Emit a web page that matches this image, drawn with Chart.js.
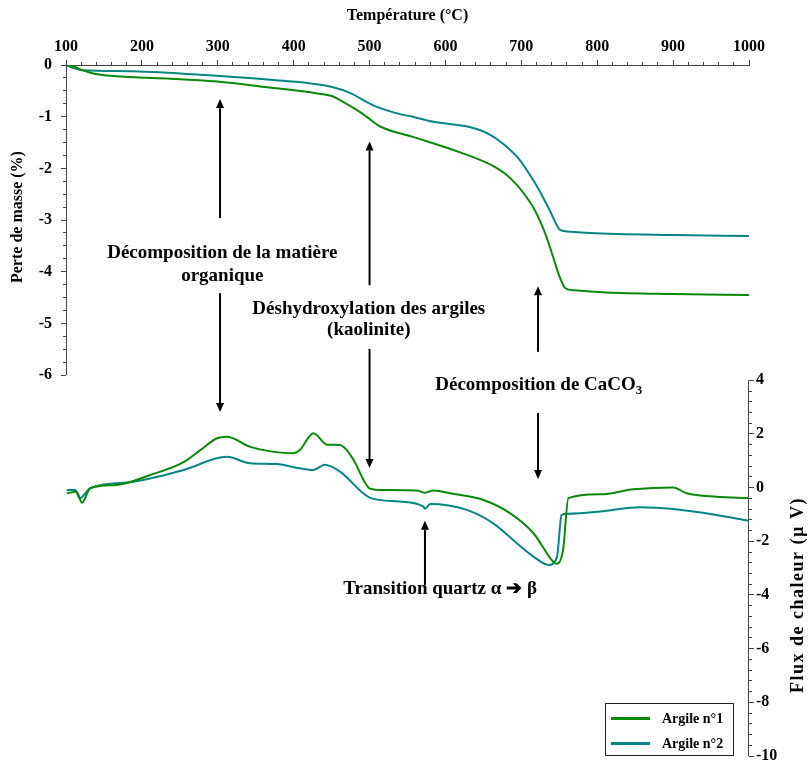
<!DOCTYPE html>
<html>
<head>
<meta charset="utf-8">
<script src="https://cdn.jsdelivr.net/npm/chart.js@4/dist/chart.umd.min.js"></script>
<style>html,body{margin:0;padding:0;background:#fff;}canvas{display:block;}</style>
</head>
<body>
<canvas id="c" width="808" height="765"></canvas>
<script>
// ---------- data ----------
const temperatureTicks = [100, 200, 300, 400, 500, 600, 700, 800, 900, 1000];
const massTicks = [0, -1, -2, -3, -4, -5, -6];
const heatTicks = [4, 2, 0, -2, -4, -6, -8, -10];
const seriesNames = ['Argile n°1', 'Argile n°2'];

// Perte de masse (%) - Argile n°1
const tgTemp1 = [100,112,118,132,158,233,299,365,431,452,461,483,496,514,557,623,665,680,694,705,716,725,733,742,750,758,770,812,900,1000];
const tgMass1 = [0,-0.04,-0.08,-0.15,-0.21,-0.26,-0.32,-0.43,-0.55,-0.61,-0.68,-0.87,-1.00,-1.19,-1.39,-1.71,-1.97,-2.12,-2.32,-2.52,-2.76,-3.03,-3.32,-3.72,-4.08,-4.32,-4.36,-4.40,-4.43,-4.45];
// Perte de masse (%) - Argile n°2
const tgTemp2 = [100,110,122,188,299,365,452,474,505,540,557,584,632,659,678,698,711,725,738,751,760,790,900,1000];
const tgMass2 = [0,-0.06,-0.10,-0.12,-0.21,-0.28,-0.43,-0.54,-0.78,-0.95,-1.00,-1.10,-1.20,-1.35,-1.55,-1.84,-2.12,-2.46,-2.83,-3.19,-3.22,-3.25,-3.29,-3.31];

// Flux de chaleur (µV) - Argile n°1
const dtaTemp1 = [101,114,121,132,167,211,255,277,299,312,342,364,400,408,426,444,461,470,479,501,518,562,573,584,606,650,685,716,742,747,755,762,804,848,900,918,957,999];
const dtaHeat1 = [-0.21,-0.15,-0.56,-0.02,0.10,0.47,0.95,1.40,1.84,1.90,1.53,1.38,1.28,1.40,2.03,1.60,1.59,1.40,1.03,-0.04,-0.09,-0.11,-0.19,-0.11,-0.21,-0.46,-0.95,-1.70,-2.76,-2.84,-2.32,-0.39,-0.25,-0.06,0.01,-0.21,-0.34,-0.39];
// Flux de chaleur (µV) - Argile n°2
const dtaTemp2 = [101,112,118,132,189,255,312,342,378,408,426,441,461,501,540,571,573,580,628,663,694,716,736,747,753,758,804,857,900,957,999];
const dtaHeat2 = [-0.09,-0.09,-0.39,-0.02,0.22,0.66,1.15,0.91,0.88,0.72,0.66,0.85,0.60,-0.38,-0.52,-0.71,-0.79,-0.61,-0.83,-1.33,-2.07,-2.57,-2.88,-2.57,-1.02,-0.98,-0.89,-0.73,-0.80,-1.02,-1.23];

// ---------- style / layout ----------
const GREEN = '#088a08';
const TEAL = '#078484';
const AXIS = '#444';
const FONT = "'Liberation Serif', 'Times New Roman', serif";
const MASS_MIN = -13.37;   // so that 0..-6 fills the upper part of the frame
const HEAT_MAX = 15.75;    // so that 4..-10 fills the lower part of the frame

const pts = (xs, ys) => xs.map((x, i) => ({x: x, y: ys[i]}));
const subdivide = (majors, n) => {
  const out = [];
  for (let i = 0; i < majors.length - 1; i++) {
    for (let k = 0; k < n; k++) out.push(majors[i] + (majors[i + 1] - majors[i]) * k / n);
  }
  out.push(majors[majors.length - 1]);
  return out;
};
const tickFont = {family: FONT, size: 16, weight: 'bold'};
const fitBox = (w, h) => sc => {
  if (w !== null) sc.width = w;
  if (h !== null) sc.height = h;
  sc.paddingTop = 0; sc.paddingBottom = 0; sc.paddingLeft = 0; sc.paddingRight = 0;
};

// annotation layout (data space)
const arrows = [
  {t: 303, axis: 'yM', from: -2.96, to: -0.66},
  {t: 303, axis: 'yH', from: 7.25, to: 2.82},
  {t: 500, axis: 'yM', from: -4.26, to: -1.48},
  {t: 500, axis: 'yH', from: 5.17, to: 0.73},
  {t: 722, axis: 'yM', from: -5.55, to: -4.28},
  {t: 722, axis: 'yH', from: 2.78, to: 0.32},
  {t: 573, axis: 'yH', from: -3.63, to: -1.23}
];
const labels = [
  {text: 'Décomposition de la matière', t: 306, axis: 'yM', v: -3.74},
  {text: 'organique', t: 306, axis: 'yM', v: -4.17},
  {text: 'Déshydroxylation des argiles', t: 499, axis: 'yM', v: -4.81},
  {text: '(kaolinite)', t: 499, axis: 'yM', v: -5.23},
  {text: 'Transition quartz α ➔ β', t: 593, axis: 'yH', v: -3.96}
];
const caco3 = {text: 'Décomposition de CaCO', sub: '3', t: 723, axis: 'yH', v: 3.64};

const decor = {
  id: 'decor',
  afterDraw(chart) {
    const ctx = chart.ctx, s = chart.scales, ca = chart.chartArea;
    ctx.save();
    // partial axis lines
    ctx.strokeStyle = AXIS; ctx.lineWidth = 1;
    ctx.beginPath();
    const xl = Math.round(ca.left) + 0.5, xr = Math.round(ca.right) - 0.5;
    ctx.moveTo(xl, s.yM.getPixelForValue(0)); ctx.lineTo(xl, s.yM.getPixelForValue(-6));
    ctx.moveTo(xr, s.yH.getPixelForValue(4)); ctx.lineTo(xr, s.yH.getPixelForValue(-10));
    ctx.stroke();

    // axis titles
    ctx.fillStyle = '#000';
    ctx.font = "bold 16px " + FONT;
    ctx.textAlign = 'center'; ctx.textBaseline = 'middle';
    ctx.save();
    ctx.translate(18, (s.yM.getPixelForValue(0) + s.yM.getPixelForValue(-6)) / 2 - 3);
    ctx.rotate(-Math.PI / 2);
    ctx.fillText('Perte de masse (%)', 0, 0);
    ctx.restore();
    ctx.save();
    ctx.font = "bold 18px " + FONT;
    if ('letterSpacing' in ctx) ctx.letterSpacing = '1.5px';
    ctx.translate(798, s.yH.getPixelForValue(-4.0));
    ctx.rotate(-Math.PI / 2);
    ctx.fillText('Flux de chaleur (µ V)', 0, 0);
    ctx.restore();

    // arrows
    ctx.strokeStyle = '#000'; ctx.fillStyle = '#000'; ctx.lineWidth = 2;
    arrows.forEach(a => {
      const x = s.x.getPixelForValue(a.t);
      const y0 = s[a.axis].getPixelForValue(a.from);
      const y1 = s[a.axis].getPixelForValue(a.to);
      const dir = y1 < y0 ? -1 : 1;
      const hl = 9, hw = 4;
      ctx.beginPath();
      ctx.moveTo(x, y0); ctx.lineTo(x, y1 - dir * hl);
      ctx.stroke();
      ctx.beginPath();
      ctx.moveTo(x, y1); ctx.lineTo(x - hw, y1 - dir * hl); ctx.lineTo(x + hw, y1 - dir * hl);
      ctx.closePath(); ctx.fill();
    });

    // annotation texts
    ctx.font = "bold 19px " + FONT;
    ctx.textAlign = 'center'; ctx.textBaseline = 'alphabetic';
    labels.forEach(l => {
      ctx.fillText(l.text, s.x.getPixelForValue(l.t), s[l.axis].getPixelForValue(l.v));
    });
    // CaCO3 with subscript
    const wMain = ctx.measureText(caco3.text).width;
    ctx.font = "bold 13px " + FONT;
    const wSub = ctx.measureText(caco3.sub).width;
    const cx = s.x.getPixelForValue(caco3.t), by = s[caco3.axis].getPixelForValue(caco3.v);
    const x0 = cx - (wMain + wSub) / 2;
    ctx.textAlign = 'left';
    ctx.font = "bold 19px " + FONT;
    ctx.fillText(caco3.text, x0, by);
    ctx.font = "bold 13px " + FONT;
    ctx.fillText(caco3.sub, x0 + wMain, by + 4);

    // legend
    const lx = 605.5, ly = 703.5, lw = 128, lh = 52;
    ctx.strokeStyle = '#222'; ctx.lineWidth = 1;
    ctx.strokeRect(lx, ly, lw, lh);
    const cols = [GREEN, TEAL];
    ctx.font = "bold 14px " + FONT;
    ctx.textBaseline = 'middle';
    seriesNames.forEach((n, i) => {
      const yy = 718.5 + i * 25;
      ctx.strokeStyle = cols[i]; ctx.lineWidth = 3;
      ctx.beginPath(); ctx.moveTo(611, yy); ctx.lineTo(650, yy); ctx.stroke();
      ctx.fillStyle = '#000';
      ctx.fillText(n, 662, yy + 1);
    });
    ctx.restore();
  }
};

const lineDs = (label, data, color, axis) => ({
  label: label, data: data, borderColor: color, backgroundColor: color,
  borderWidth: 2, pointRadius: 0, fill: false, yAxisID: axis, xAxisID: 'x',
  cubicInterpolationMode: 'monotone'
});

new Chart(document.getElementById('c'), {
  type: 'line',
  data: {
    datasets: [
      lineDs(seriesNames[0], pts(tgTemp1, tgMass1), GREEN, 'yM'),
      lineDs(seriesNames[1], pts(tgTemp2, tgMass2), TEAL, 'yM'),
      lineDs(seriesNames[0] + ' (flux)', pts(dtaTemp1, dtaHeat1), GREEN, 'yH'),
      lineDs(seriesNames[1] + ' (flux)', pts(dtaTemp2, dtaHeat2), TEAL, 'yH')
    ]
  },
  options: {
    responsive: false, animation: false, devicePixelRatio: 1,
    layout: {padding: {left: 0, right: 0, top: 0, bottom: 9}},
    plugins: {legend: {display: false}, tooltip: {enabled: false}},
    scales: {
      x: {
        type: 'linear', position: 'top', min: 100, max: 1000, weight: 1,
        afterBuildTicks: sc => { sc.ticks = temperatureTicks.map(v => ({value: v})); },
        ticks: {font: tickFont, color: '#000', padding: 4, maxRotation: 0, autoSkip: false, callback: v => String(v)},
        grid: {drawOnChartArea: false, tickLength: 5, tickColor: AXIS, color: AXIS},
        border: {display: true, color: AXIS, width: 1},
        title: {display: true, text: 'Température (°C)', color: '#000', font: tickFont, padding: {top: 6, bottom: 0}},
        afterFit: fitBox(null, 65)
      },
      xMinor: {
        type: 'linear', position: 'top', min: 100, max: 1000, weight: 0,
        afterBuildTicks: sc => { sc.ticks = subdivide(temperatureTicks, 5).map(v => ({value: v})); },
        ticks: {display: false},
        grid: {drawOnChartArea: false, tickLength: 3, tickColor: AXIS, color: AXIS},
        border: {display: false},
        afterFit: fitBox(null, 0)
      },
      yM: {
        type: 'linear', position: 'left', min: MASS_MIN, max: 0, weight: 1,
        afterBuildTicks: sc => { sc.ticks = massTicks.map(v => ({value: v})); },
        ticks: {font: tickFont, color: '#000', padding: 9, autoSkip: false, callback: v => String(v)},
        grid: {drawOnChartArea: false, tickLength: 5, tickColor: AXIS, color: AXIS},
        border: {display: false},
        afterFit: fitBox(66, null)
      },
      yMMinor: {
        type: 'linear', position: 'left', min: MASS_MIN, max: 0, weight: 0,
        afterBuildTicks: sc => { sc.ticks = subdivide(massTicks, 4).map(v => ({value: v})); },
        ticks: {display: false},
        grid: {drawOnChartArea: false, tickLength: 3, tickColor: AXIS, color: AXIS},
        border: {display: false},
        afterFit: fitBox(0, null)
      },
      yH: {
        type: 'linear', position: 'right', min: -10, max: HEAT_MAX, weight: 1,
        afterBuildTicks: sc => { sc.ticks = heatTicks.map(v => ({value: v})); },
        ticks: {font: tickFont, color: '#000', padding: 2, autoSkip: false, callback: v => String(v)},
        grid: {drawOnChartArea: false, tickLength: 5, tickColor: AXIS, color: AXIS},
        border: {display: false},
        afterFit: fitBox(59, null)
      },
      yHMinor: {
        type: 'linear', position: 'right', min: -10, max: HEAT_MAX, weight: 0,
        afterBuildTicks: sc => { sc.ticks = subdivide(heatTicks, 5).map(v => ({value: v})); },
        ticks: {display: false},
        grid: {drawOnChartArea: false, tickLength: 3, tickColor: AXIS, color: AXIS},
        border: {display: false},
        afterFit: fitBox(0, null)
      }
    }
  },
  plugins: [decor]
});
</script>
</body>
</html>
